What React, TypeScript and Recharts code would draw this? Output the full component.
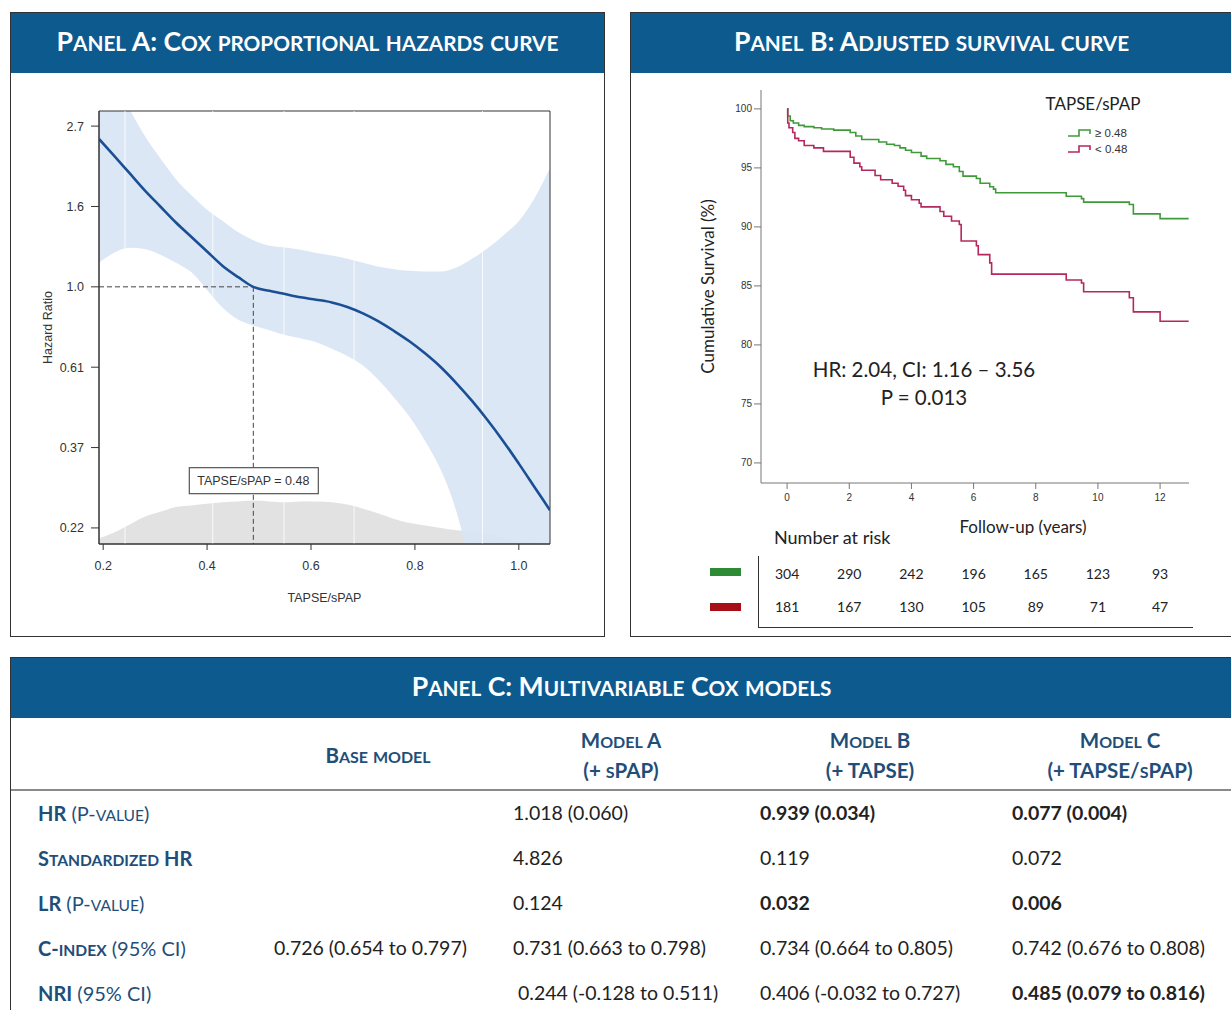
import React from 'react';
import {
  ComposedChart,
  LineChart,
  Line,
  Area,
  Scatter,
  XAxis,
  YAxis,
  ReferenceLine,
  ReferenceDot,
  ReferenceArea,
  Label,
} from 'recharts';

const HEADER_BLUE = '#0d5a8f';
const TEXT_BLUE = '#1f4e79';
const CAL = 'Lato, "Open Sans", sans-serif';
const ARIAL = '"Liberation Sans", Arial, sans-serif';
const GREEN = '#3f9b3a';
const CRIMSON = '#b5285e';

// ---- Panel A: spline of log hazard ratio vs TAPSE/sPAP ----
const tapseGrid = [
  0.192, 0.22, 0.25, 0.28, 0.31, 0.34, 0.37, 0.4, 0.43, 0.46, 0.489, 0.52, 0.55, 0.58, 0.61,
  0.64, 0.67, 0.7, 0.73, 0.76, 0.79, 0.82, 0.85, 0.88, 0.91, 0.94, 0.97, 1.0, 1.03, 1.06,
];
const logHr = [
  0.92, 0.82, 0.71, 0.6, 0.5, 0.4, 0.31, 0.22, 0.13, 0.06, 0.0, -0.025, -0.045, -0.065, -0.08,
  -0.097, -0.125, -0.165, -0.215, -0.275, -0.34, -0.415, -0.5, -0.6, -0.71, -0.83, -0.96, -1.1, -1.245, -1.39,
];
const logHrUpper = [
  1.45, 1.3, 1.11, 0.94, 0.8, 0.67, 0.57, 0.48, 0.41, 0.34, 0.29, 0.255, 0.245, 0.23, 0.21,
  0.195, 0.175, 0.15, 0.125, 0.11, 0.1, 0.095, 0.095, 0.12, 0.175, 0.24, 0.32, 0.41, 0.55, 0.74,
];
const logHrLower = [
  0.15, 0.21, 0.243, 0.235, 0.2, 0.15, 0.09, -0.02, -0.13, -0.205, -0.24, -0.27, -0.3, -0.32, -0.345,
  -0.385, -0.43, -0.49, -0.58, -0.69, -0.81, -0.96, -1.14, -1.4, -1.8, -2.3, -2.6, -2.8, -2.9, -3.0,
];
const densityTop = [
  -1.565, -1.53, -1.48, -1.43, -1.4, -1.37, -1.36, -1.35, -1.34, -1.335, -1.33, -1.335, -1.34, -1.335, -1.335,
  -1.34, -1.355, -1.38, -1.41, -1.445, -1.47, -1.485, -1.5, -1.515, -1.525, -1.54, -1.56, -1.58, -1.59, -1.6,
];
const hrTicks = [-1.5, -1, -0.5, 0, 0.5, 1];
const hrTickLabels = ['0.22', '0.37', '0.61', '1.0', '1.6', '2.7'];
const tapseTicks = [0.2, 0.4, 0.6, 0.8, 1.0];
const knotLines = [0.242, 0.411, 0.548, 0.683, 0.93];
const cutoffX = 0.489;
const cutoffLabel = 'TAPSE/sPAP = 0.48';
const cutoffLabelY = -1.206;

const A_X = [0.192, 1.06];
const A_Y = [-1.6, 1.094];

const hazardData = tapseGrid.map((x, i) => ({
  x,
  hr: logHr[i],
  band: [logHrLower[i], logHrUpper[i]],
  density: densityTop[i],
}));

// ---- Panel B: adjusted survival ----
const highTimes = [
  0, 0.02, 0.1, 0.2, 0.37, 0.55, 0.86, 1.11, 1.5, 2.03, 2.21, 2.4, 2.95, 3.2, 3.45, 3.63, 3.81, 4.0,
  4.31, 4.49, 4.92, 5.11, 5.35, 5.54, 5.66, 6.09, 6.21, 6.52, 6.64, 6.71, 8.98, 9.47, 9.54, 11.01,
  11.14, 12.0, 12.92,
];
const highSurv = [
  100, 99.4, 99.0, 98.8, 98.6, 98.5, 98.4, 98.3, 98.2, 98.0, 97.7, 97.4, 97.2, 97.0, 96.9, 96.7, 96.5,
  96.3, 96.0, 95.8, 95.6, 95.3, 95.1, 94.7, 94.3, 94.1, 93.7, 93.4, 93.2, 92.9, 92.6, 92.4, 92.1, 91.9,
  91.1, 90.7, 90.7,
];
const lowTimes = [
  0, 0.02, 0.06, 0.18, 0.25, 0.37, 0.55, 0.86, 1.17, 2.03, 2.15, 2.34, 2.4, 2.83, 3.01, 3.38, 3.57,
  3.75, 3.81, 4.0, 4.25, 4.31, 4.92, 5.04, 5.29, 5.54, 5.6, 6.09, 6.15, 6.52, 6.58, 8.98, 9.47, 9.54,
  11.01, 11.14, 12.0, 12.92,
];
const lowSurv = [
  100, 98.8, 98.4, 98.0, 97.5, 97.3, 96.9, 96.7, 96.4, 95.9, 95.4, 95.1, 94.8, 94.35, 94.0, 93.7, 93.45,
  93.1, 92.65, 92.3, 92.0, 91.7, 91.3, 90.9, 90.5, 90.2, 88.8, 88.4, 87.65, 86.95, 86.0, 85.5, 85.25,
  84.5, 84.0, 82.8, 82.0, 82.0,
];
const yearTicks = [0, 2, 4, 6, 8, 10, 12];
const survTicks = [70, 75, 80, 85, 90, 95, 100];
const B_X = [-0.84, 12.93];
const B_Y = [68.3, 101.6];

const riskTimes = [0, 2, 4, 6, 8, 10, 12];
const riskHigh = [304, 290, 242, 196, 165, 123, 93];
const riskLow = [181, 167, 130, 105, 89, 71, 47];

const highData = highTimes.map((t, i) => ({ t, surv: highSurv[i] }));
const lowData = lowTimes.map((t, i) => ({ t, surv: lowSurv[i] }));
const riskHighData = riskTimes.map((t, i) => ({ t, row: 1, n: riskHigh[i] }));
const riskLowData = riskTimes.map((t, i) => ({ t, row: 2, n: riskLow[i] }));

// ---- Panel C: table ----
const modelHeads = [
  ['Base model'],
  ['Model A', '(+ sPAP)'],
  ['Model B', '(+ TAPSE)'],
  ['Model C', '(+ TAPSE/sPAP)'],
];
const rowLabels = [
  ['HR', ' (P-value)'],
  ['Standardized HR', ''],
  ['LR', ' (P-value)'],
  ['C-index', ' (95% CI)'],
  ['NRI', ' (95% CI)'],
];
const baseModel = ['', '', '', '0.726 (0.654 to 0.797)', ''];
const modelA = ['1.018 (0.060)', '4.826', '0.124', '0.731 (0.663 to 0.798)', '\u00a00.244 (-0.128 to 0.511)'];
const modelB = ['0.939 (0.034)', '0.119', '0.032', '0.734 (0.664 to 0.805)', '0.406 (-0.032 to 0.727)'];
const modelC = ['0.077 (0.004)', '0.072', '0.006', '0.742 (0.676 to 0.808)', '0.485 (0.079 to 0.816)'];
const boldB = [true, false, true, false, false];
const boldC = [true, false, true, false, true];

const colLeft = [274, 513, 760, 1012];
const colCenter = [378, 621, 870, 1120];
const rowY = [813, 858, 903, 948, 993];

// lowercase runs drawn as smaller capitals, like Word's small caps
const SmallCaps = ({ text, size, ratio = 0.78 }: { text: string; size: number; ratio?: number }) => {
  const runs = text.match(/[a-z]+|[^a-z]+/g) || [];
  return (
    <>
      {runs.map((r, i) =>
        /[a-z]/.test(r) ? (
          <span key={i} style={{ fontSize: size * ratio }}>{r.toUpperCase()}</span>
        ) : (
          <span key={i} style={{ fontSize: size }}>{r}</span>
        )
      )}
    </>
  );
};

const Header = ({ title }: { title: string }) => (
  <div
    style={{
      background: HEADER_BLUE,
      height: 60,
      color: '#fff',
      fontFamily: CAL,
      fontWeight: 700,
      display: 'flex',
      alignItems: 'center',
      justifyContent: 'center',
      whiteSpace: 'nowrap',
      paddingBottom: 5,
      boxSizing: 'border-box',
    }}
  >
    <span>
      <SmallCaps text={title} size={26.6} />
    </span>
  </div>
);

const rotatedLabel = (text: string, dx: number, style: React.CSSProperties) => (props: any) => {
  const vb = props.viewBox || {};
  const cx = vb.x + vb.width + dx;
  const cy = vb.y + vb.height / 2;
  return (
    <text
      x={cx}
      y={cy}
      transform={`rotate(-90 ${cx} ${cy})`}
      textAnchor="middle"
      dominantBaseline="central"
      style={style}
    >
      {text}
    </text>
  );
};

const CutoffBox = (props: any) => {
  const { cx, cy } = props;
  return (
    <g>
      <rect x={cx - 64} y={cy - 13} width={129} height={26} fill="#fff" stroke="#555" strokeWidth={1.2} />
      <text x={cx} y={cy} textAnchor="middle" dominantBaseline="central" fontFamily={ARIAL} fontSize={12.5} fill="#333">
        {cutoffLabel}
      </text>
    </g>
  );
};

const HazardChart = () => (
  <ComposedChart
    width={593}
    height={563}
    data={hazardData}
    margin={{ top: 38, right: 54, left: 28, bottom: 32 }}
  >
    <XAxis
      dataKey="x"
      type="number"
      domain={A_X}
      allowDataOverflow
      ticks={tapseTicks}
      tickFormatter={(v: number) => v.toFixed(1)}
      height={60}
      tickSize={6}
      tickMargin={11}
      stroke="#333"
      tick={{ fontFamily: ARIAL, fontSize: 12.5, fill: '#333' }}
    >
      <Label
        value="TAPSE/sPAP"
        position="insideBottom"
        offset={2}
        style={{ fontFamily: ARIAL, fontSize: 12.5, fill: '#333' }}
      />
    </XAxis>
    <YAxis
      type="number"
      domain={A_Y}
      allowDataOverflow
      ticks={hrTicks}
      tickFormatter={(v: number) => hrTickLabels[hrTicks.indexOf(v)]}
      width={60}
      tickSize={8}
      tickMargin={7}
      stroke="#333"
      tick={{ fontFamily: ARIAL, fontSize: 12.5, fill: '#333' }}
    >
      <Label content={rotatedLabel('Hazard Ratio', -51, { fontFamily: ARIAL, fontSize: 12.5, fill: '#333' })} />
    </YAxis>
    <Area
      dataKey="density"
      baseValue={A_Y[0]}
      type="monotone"
      stroke="none"
      fill="#e2e2e2"
      fillOpacity={1}
      isAnimationActive={false}
    />
    <Area
      dataKey="band"
      type="monotone"
      stroke="none"
      fill="#d8e5f3"
      fillOpacity={0.92}
      isAnimationActive={false}
    />
    {knotLines.map((k) => (
      <ReferenceLine key={k} x={k} stroke="#ffffff" strokeWidth={1} strokeOpacity={0.8} />
    ))}
    <ReferenceLine
      segment={[{ x: A_X[0], y: 0 }, { x: cutoffX, y: 0 }]}
      stroke="#444"
      strokeDasharray="5 3"
    />
    <ReferenceLine
      segment={[{ x: cutoffX, y: 0 }, { x: cutoffX, y: A_Y[0] }]}
      stroke="#444"
      strokeDasharray="5 3"
    />
    <Line
      dataKey="hr"
      type="monotone"
      stroke="#1b4f95"
      strokeWidth={2.6}
      dot={false}
      isAnimationActive={false}
    />
    <ReferenceDot x={cutoffX} y={cutoffLabelY} shape={CutoffBox} />
    <ReferenceArea x1={A_X[0]} x2={A_X[1]} y1={A_Y[0]} y2={A_Y[1]} fill="none" fillOpacity={0} stroke="#333" strokeWidth={1} />
  </ComposedChart>
);

const SurvivalChart = () => (
  <LineChart width={600} height={462} margin={{ top: 17, right: 42, left: 70, bottom: 0 }}>
    <XAxis
      dataKey="t"
      type="number"
      domain={B_X}
      allowDataOverflow
      ticks={yearTicks}
      height={52}
      tickSize={6}
      tickMargin={5}
      stroke="#777"
      tick={{ fontFamily: ARIAL, fontSize: 10, fill: '#333' }}
    >
      <Label
        content={(props: any) => {
          const vb = props.viewBox || {};
          return (
            <text
              x={vb.x + vb.width / 2 + 48}
              y={vb.y + 43}
              textAnchor="middle"
              dominantBaseline="central"
              style={{ fontFamily: CAL, fontSize: 17, fill: '#222' }}
            >
              Follow-up (years)
            </text>
          );
        }}
      />
    </XAxis>
    <YAxis
      type="number"
      domain={B_Y}
      allowDataOverflow
      ticks={survTicks}
      width={60}
      tickSize={7}
      tickMargin={2}
      stroke="#777"
      tick={{ fontFamily: ARIAL, fontSize: 10, fill: '#333' }}
    >
      <Label content={rotatedLabel('Cumulative Survival (%)', -54, { fontFamily: CAL, fontSize: 17, fill: '#222' })} />
    </YAxis>
    <Line
      data={highData}
      dataKey="surv"
      name="≥ 0.48"
      type="stepAfter"
      stroke={GREEN}
      strokeWidth={1.6}
      dot={false}
      isAnimationActive={false}
    />
    <Line
      data={lowData}
      dataKey="surv"
      name="< 0.48"
      type="stepAfter"
      stroke={CRIMSON}
      strokeWidth={1.6}
      dot={false}
      isAnimationActive={false}
    />
  </LineChart>
);

const RiskNumber = (props: any) => (
  <text
    x={props.cx}
    y={props.cy}
    textAnchor="middle"
    dominantBaseline="central"
    style={{ fontFamily: CAL, fontSize: 14, fill: '#222' }}
  >
    {props.payload.n}
  </text>
);

const RiskTable = () => (
  <ComposedChart width={600} height={99} margin={{ top: 0, right: 42, left: 130, bottom: 0 }}>
    <XAxis dataKey="t" type="number" domain={B_X} hide />
    <YAxis dataKey="row" type="number" domain={[0, 3]} reversed hide />
    <Scatter data={riskHighData} shape={RiskNumber} isAnimationActive={false} />
    <Scatter data={riskLowData} shape={RiskNumber} isAnimationActive={false} />
  </ComposedChart>
);

const StepIcon = ({ color }: { color: string }) => (
  <svg width={24} height={10} style={{ display: 'block' }}>
    <polyline points="1,8 12,8 12,2 23,2 23,6" fill="none" stroke={color} strokeWidth={1.6} />
  </svg>
);

const abs = (left: number, top: number, extra: React.CSSProperties = {}): React.CSSProperties => ({
  position: 'absolute',
  left,
  top,
  ...extra,
});

export default function App() {
  return (
    <div
      style={{
        position: 'absolute',
        left: 0,
        top: 0,
        width: 1231,
        height: 1010,
        overflow: 'hidden',
        background: '#fff',
      }}
    >
      {/* Panel A */}
      <div style={abs(10, 12, { width: 593, height: 623, border: '1px solid #333' })}>
        <Header title="Panel A: Cox proportional hazards curve" />
      </div>
      <div style={abs(11, 73)}>
        <HazardChart />
      </div>

      {/* Panel B */}
      <div style={abs(630, 12, { width: 620, height: 623, border: '1px solid #333' })}>
        <div style={{ width: 601 }}>
          <Header title="Panel B: Adjusted survival curve" />
        </div>
      </div>
      <div style={abs(631, 73)}>
        <SurvivalChart />
      </div>
      <div style={abs(1000, 93, { width: 186, textAlign: 'center', fontFamily: CAL, fontSize: 17, color: '#222' })}>
        TAPSE/sPAP
      </div>
      {[
        { color: GREEN, text: '≥ 0.48', top: 127 },
        { color: CRIMSON, text: '< 0.48', top: 143 },
      ].map((it) => (
        <div key={it.text} style={abs(1067, it.top, { display: 'flex', alignItems: 'center', gap: 4 })}>
          <StepIcon color={it.color} />
          <span style={{ fontFamily: ARIAL, fontSize: 11.5, color: '#333', lineHeight: '12px' }}>{it.text}</span>
        </div>
      ))}
      <div style={abs(774, 355, { width: 300, textAlign: 'center', fontFamily: CAL, fontSize: 20.5, color: '#222', lineHeight: '28px' })}>
        <div>HR: 2.04, CI: 1.16 – 3.56</div>
        <div>P = 0.013</div>
      </div>
      <div style={abs(774, 526, { fontFamily: CAL, fontSize: 18, color: '#222', whiteSpace: 'nowrap' })}>
        Number at risk
      </div>
      <div style={abs(710, 568, { width: 31, height: 8, background: '#2e8b35' })} />
      <div style={abs(710, 603, { width: 31, height: 8, background: '#a50f15' })} />
      <div style={abs(758, 556, { width: 1, height: 72, background: '#333' })} />
      <div style={abs(758, 627, { width: 435, height: 1, background: '#333' })} />
      <div style={abs(631, 540)}>
        <RiskTable />
      </div>

      {/* Panel C */}
      <div style={abs(10, 657, { width: 1240, height: 400, border: '1px solid #333' })}>
        <div style={{ width: 1221 }}>
          <Header title="Panel C: Multivariable Cox models" />
        </div>
      </div>
      <div style={abs(11, 789, { width: 1220, height: 2, background: '#8a8a8a' })} />
      {modelHeads.map((lines, i) => (
        <div
          key={i}
          style={abs(colCenter[i] - 120, lines.length === 1 ? 741 : 726, {
            width: 240,
            textAlign: 'center',
            fontFamily: CAL,
            fontWeight: 700,
            color: TEXT_BLUE,
            lineHeight: '28px',
          })}
        >
          {lines.map((l) => (
            <div key={l}>
              <SmallCaps text={l} size={20.5} />
            </div>
          ))}
        </div>
      ))}
      {rowLabels.map((r, i) => (
        <div
          key={r[0]}
          style={abs(38, rowY[i] - 13, {
            fontFamily: CAL,
            color: TEXT_BLUE,
            lineHeight: '26px',
            whiteSpace: 'nowrap',
          })}
        >
          <span style={{ fontWeight: 700 }}>
            <SmallCaps text={r[0]} size={20} />
          </span>
          <span>
            <SmallCaps text={r[1]} size={20} />
          </span>
        </div>
      ))}
      {[baseModel, modelA, modelB, modelC].map((col, ci) =>
        col.map((v, ri) => (
          <div
            key={`${ci}-${ri}`}
            style={abs(colLeft[ci], rowY[ri] - 13, {
              fontFamily: CAL,
              fontSize: 19.5,
              color: '#222',
              lineHeight: '26px',
              whiteSpace: 'nowrap',
              fontWeight: (ci === 2 && boldB[ri]) || (ci === 3 && boldC[ri]) ? 700 : 400,
            })}
          >
            {v}
          </div>
        ))
      )}
    </div>
  );
}
